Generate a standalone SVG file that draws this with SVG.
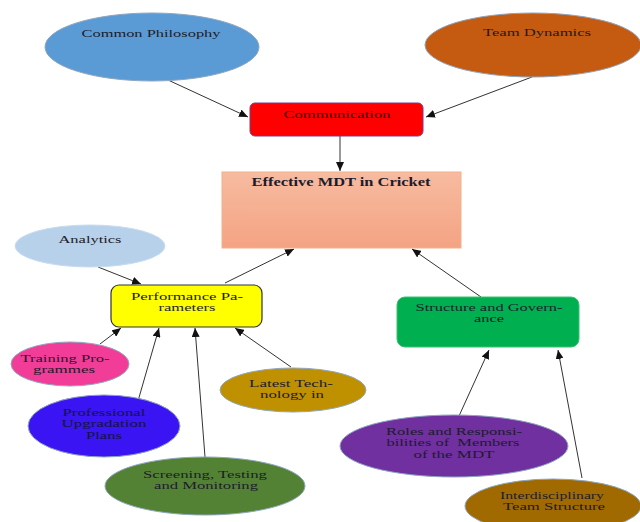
<svg xmlns="http://www.w3.org/2000/svg" width="640" height="522" viewBox="0 0 640 522">
<style>
text{font-family:"Liberation Serif","Times New Roman",serif;font-size:10.5px;fill:#1c1c2c;text-anchor:middle}
.b{font-weight:bold;font-size:12px}
.edge{stroke:#333;stroke-width:1;fill:none;marker-end:url(#ah)}
.ell{stroke:#8fa6c0;stroke-width:1}
</style>
<defs>
<marker id="ah" markerUnits="userSpaceOnUse" markerWidth="9" markerHeight="8" refX="9" refY="4" orient="auto"><path d="M0,0 L9,4 L0,8 z" fill="#111"/></marker>
<linearGradient id="g" x1="0" y1="0" x2="0" y2="1"><stop offset="0" stop-color="#f7bba0"/><stop offset="1" stop-color="#f4a383"/></linearGradient>
</defs>
<g id="connectors">
<line class="edge" x1="168" y1="80" x2="248" y2="117"/>
<line class="edge" x1="532" y1="77" x2="426" y2="117"/>
<line class="edge" x1="340" y1="136" x2="340" y2="171"/>
<line class="edge" x1="98" y1="267" x2="141" y2="284"/>
<line class="edge" x1="225" y1="283" x2="294" y2="249"/>
<line class="edge" x1="481" y1="297" x2="412" y2="249"/>
<line class="edge" x1="100" y1="344" x2="121" y2="328"/>
<line class="edge" x1="138" y1="401" x2="159" y2="328"/>
<line class="edge" x1="205" y1="457" x2="195" y2="328"/>
<line class="edge" x1="291" y1="367" x2="235" y2="328"/>
<line class="edge" x1="459" y1="416" x2="489" y2="350"/>
<line class="edge" x1="582" y1="478" x2="558" y2="350"/>
</g>
<g id="common-philosophy"><ellipse class="ell" cx="152" cy="47" rx="107" ry="34" fill="#5b9bd5" stroke="#7fb0e0"/><text x="151" y="37" textLength="139" lengthAdjust="spacingAndGlyphs">Common Philosophy</text></g>
<g id="team-dynamics"><ellipse class="ell" cx="533" cy="45" rx="108" ry="32" fill="#c55a11"/><text x="537" y="36" textLength="108" lengthAdjust="spacingAndGlyphs">Team Dynamics</text></g>
<g id="communication"><rect x="250" y="103" width="173" height="33" rx="5" fill="#ff0000" stroke="#7a3a8a" stroke-width="1"/><text x="337" y="118" textLength="107" lengthAdjust="spacingAndGlyphs" style="fill:#3a0000">Communication</text></g>
<g id="effective-mdt"><rect x="222" y="172" width="239" height="76" fill="url(#g)" stroke="#f4b08c" stroke-width="1"/><text class="b" x="341" y="186" textLength="179" lengthAdjust="spacingAndGlyphs">Effective MDT in Cricket</text></g>
<g id="analytics"><ellipse cx="90" cy="246" rx="75" ry="21" fill="#b8d1ea" stroke="#c8dcef" stroke-width="1"/><text x="90" y="243" textLength="63" lengthAdjust="spacingAndGlyphs">Analytics</text></g>
<g id="performance-parameters"><rect x="111" y="285" width="151" height="42" rx="8" fill="#ffff00" stroke="#333" stroke-width="1.2"/><text x="187" y="299.5" textLength="112" lengthAdjust="spacingAndGlyphs">Performance Pa-</text><text x="187" y="311" textLength="57" lengthAdjust="spacingAndGlyphs">rameters</text></g>
<g id="structure-governance"><rect x="397" y="297" width="182" height="50" rx="8" fill="#00b050" stroke="#3cc070" stroke-width="1"/><text x="489" y="310.5" textLength="147" lengthAdjust="spacingAndGlyphs">Structure and Govern-</text><text x="489" y="322" textLength="30" lengthAdjust="spacingAndGlyphs">ance</text></g>
<g id="training-programmes"><ellipse class="ell" cx="70" cy="364" rx="59" ry="22" fill="#f23d98"/><text x="65" y="361.5" textLength="89" lengthAdjust="spacingAndGlyphs">Training Pro-</text><text x="64" y="373" textLength="62" lengthAdjust="spacingAndGlyphs">grammes</text></g>
<g id="professional-upgradation"><ellipse class="ell" cx="104" cy="426" rx="76" ry="31" fill="#3a14f2"/><text x="104" y="415.5" textLength="83" lengthAdjust="spacingAndGlyphs" style="fill:#141440">Professional</text><text x="104" y="427" textLength="85" lengthAdjust="spacingAndGlyphs" style="fill:#141440">Upgradation</text><text x="104" y="438.5" textLength="36" lengthAdjust="spacingAndGlyphs" style="fill:#141440">Plans</text></g>
<g id="latest-technology"><ellipse class="ell" cx="293" cy="390" rx="73" ry="22" fill="#bf9000"/><text x="291" y="386.5" textLength="84" lengthAdjust="spacingAndGlyphs">Latest Tech-</text><text x="292" y="398" textLength="64" lengthAdjust="spacingAndGlyphs">nology in</text></g>
<g id="screening-testing"><ellipse class="ell" cx="205" cy="486" rx="100" ry="29" fill="#548235"/><text x="205" y="477.5" textLength="124" lengthAdjust="spacingAndGlyphs">Screening, Testing</text><text x="206" y="489" textLength="104" lengthAdjust="spacingAndGlyphs">and Monitoring</text></g>
<g id="roles-responsibilities"><ellipse class="ell" cx="454" cy="446" rx="114" ry="31" fill="#7030a0"/><text x="454" y="434.5" textLength="136" lengthAdjust="spacingAndGlyphs">Roles and Responsi-</text><text x="453" y="446" textLength="133" lengthAdjust="spacingAndGlyphs" xml:space="preserve">bilities of  Members</text><text x="454" y="457.5" textLength="81" lengthAdjust="spacingAndGlyphs">of the MDT</text></g>
<g id="interdisciplinary-team"><ellipse class="ell" cx="553" cy="506" rx="88" ry="27" fill="#a06a00"/><text x="552" y="498.5" textLength="104" lengthAdjust="spacingAndGlyphs">Interdisciplinary</text><text x="554" y="510" textLength="102" lengthAdjust="spacingAndGlyphs">Team Structure</text></g>
</svg>
